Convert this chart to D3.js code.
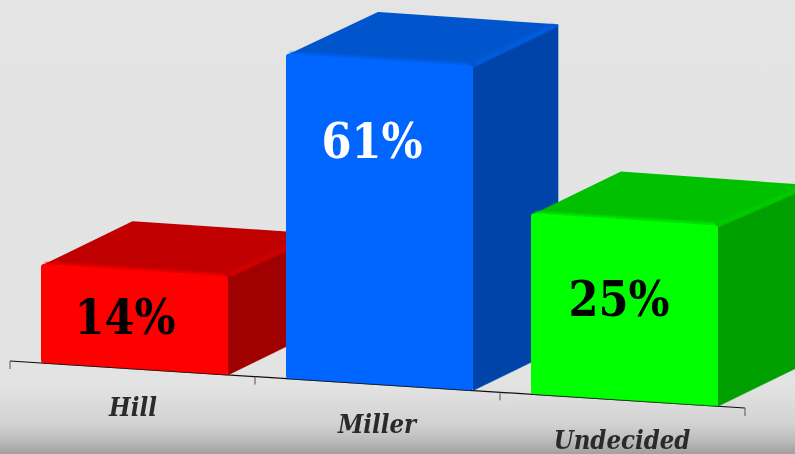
<!DOCTYPE html>
<html><head><meta charset="utf-8">
<script src="https://cdn.jsdelivr.net/npm/d3@7"></script>
<style>html,body{margin:0;padding:0;background:#e4e4e4;overflow:hidden}svg{display:block}</style>
</head><body><svg id="c" width="795" height="454"></svg>
<script>
const categories = ["Hill", "Miller", "Undecided"];
const values = [14, 61, 25];
const valueLabels = ["14%", "61%", "25%"];
const frontColors = ["#ff0000", "#0066ff", "#00ff00"];
const topColors = ["#c00000", "#0055cc", "#00c000"];
const sideColors = ["#a00000", "#0044aa", "#00a000"];
const ridgeColors = ["#d00000", "#005ce0", "#00cc00"];
const bevelColors = ["#f00000", "#0062f4", "#00f000"];
const labelColors = ["#000000", "#ffffff", "#000000"];
// the picture's bars are not proportional to their values, so the scale has one segment per value
const heightKnots = [0, 14, 25, 61];
const heightRange = [0, 98, 180, 324];

const svg = d3.select("#c");
const W = 795, H = 454;
const defs = svg.append("defs");
const bg = defs.append("linearGradient").attr("id","bg").attr("x1",0).attr("x2",0).attr("y1",0).attr("y2",1);
[[0,"#e4e4e4"],[0.85,"#e3e3e3"],[0.934,"#d2d2d2"],[0.97,"#bcbcbc"],[1,"#a0a0a0"]]
  .forEach(s=>bg.append("stop").attr("offset",s[0]).attr("stop-color",s[1]));
defs.append("filter").attr("id","soft").append("feGaussianBlur").attr("stdDeviation",0.4);
defs.append("filter").attr("id","bev").attr("x","-20%").attr("y","-20%").attr("width","140%").attr("height","140%")
  .append("feGaussianBlur").attr("stdDeviation",1.3);

svg.append("rect").attr("width",W).attr("height",H).attr("fill","url(#bg)");

const axisX0 = 10, axisX1 = 745, axisY0 = 361, axisY1 = 408;
const x = d3.scaleBand().domain(categories).range([axisX0, axisX1]);
const ground = d3.scaleLinear().domain([axisX0, axisX1]).range([axisY0, axisY1]);
const h = d3.scaleLinear().domain(heightKnots).range(heightRange);
const inset = 31, barW = 187;
const backLeft = [[92,-43],[92.5,-42],[90,-42]];
const backRight = [[92,-43],[85,-42],[92,-41]];
const sideBottom = [86,-42];
const line = d3.line();

// axis
const tickXs = categories.map(c=>x(c)).concat([axisX1]);
const axis = svg.append("g").attr("filter","url(#soft)");
axis.append("line").attr("x1",axisX0).attr("y1",axisY0).attr("x2",axisX1).attr("y2",axisY1)
  .attr("stroke","#111").attr("stroke-width",1.2);
axis.selectAll(".t").data(tickXs).join("line").attr("class","t")
  .attr("x1",d=>d).attr("x2",d=>d).attr("y1",d=>ground(d)).attr("y2",d=>ground(d)+8)
  .attr("stroke","#555").attr("stroke-width",1);

// bars
categories.forEach((c,i)=>{
  const xl = x(c)+inset, xr = xl+barW;
  const bl = ground(xl), br = ground(xr);
  const hh = h(values[i]);
  const tl = bl-hh, tr = br-hh;
  const g = svg.append("g");
  const bk = [xr+backRight[i][0], tr+backRight[i][1]];
  const bkl = [xl+backLeft[i][0], tl+backLeft[i][1]];
  const sideP = [[xr,tr],bk,[bk[0],br+sideBottom[1]*(bk[0]-xr)/sideBottom[0]],[xr,br]];
  const topP = [[xl+2.5,tl+1],[bkl[0],bkl[1]+0.5],[bk[0]-1,bk[1]+1],[xr,tr]];
  const poly = (p,col,r)=>g.append("path").attr("d",line(p)+"Z").attr("fill",col).attr("stroke",col)
    .attr("stroke-width",r).attr("stroke-linejoin","round");
  poly(sideP, sideColors[i], 0.6);
  poly(topP, topColors[i], 2.5);
  // ridge between the top and side faces
  g.append("path").attr("d",line([[xr+2,tr-3],[bk[0]-4,bk[1]+1]])).attr("stroke",ridgeColors[i]).attr("stroke-width",4)
    .attr("fill","none").attr("filter","url(#bev)");
  g.append("path").attr("d",line([[xr+1,tr],[xr+1,br]])).attr("stroke",topColors[i]).attr("stroke-width",1.2)
    .attr("fill","none").attr("filter","url(#bev)").attr("opacity",0.7);
  // soft bevel above the front face's top edge
  g.append("path").attr("d",line([[xl+4,tl-1.5],[xr-3,tr-2]])).attr("stroke",bevelColors[i]).attr("stroke-width",2.5)
    .attr("fill","none").attr("filter","url(#bev)");
  // front face with soft rounded top corners
  const r = 3;
  g.append("path").attr("d",line([[xl+r,tl-1+r],[xr-r,tr-1+r],[xr-r,br-r],[xl+r,bl-r]])+"Z")
    .attr("fill",frontColors[i]).attr("stroke",frontColors[i]).attr("stroke-width",r*2).attr("stroke-linejoin","round");
  g.append("path").attr("d",line([[xl,bl],[xr,br]])).attr("stroke","#111").attr("stroke-width",0.8).attr("fill","none").attr("opacity",0.6);
});

// value labels
const labelPos = [[125,334],[372,158],[619,316]];
svg.selectAll(".v").data(valueLabels).join("text").attr("class","v")
  .attr("x",(d,i)=>labelPos[i][0]).attr("y",(d,i)=>labelPos[i][1])
  .attr("text-anchor","middle").attr("font-family","'DejaVu Serif Condensed','DejaVu Serif',serif").attr("font-weight","bold")
  .attr("font-size",48).attr("fill",(d,i)=>labelColors[i]).attr("filter","url(#soft)").text(d=>d);

// category labels
const catPos = [[133,416],[377,433],[622,449]];
svg.selectAll(".c").data(categories).join("text").attr("class","c")
  .attr("x",(d,i)=>catPos[i][0]).attr("y",(d,i)=>catPos[i][1])
  .attr("text-anchor","middle").attr("font-family","'DejaVu Serif Condensed','DejaVu Serif',serif").attr("font-weight","bold")
  .attr("font-style","italic").attr("font-size",25.5).attr("fill","#2a2a2a").attr("filter","url(#soft)").text(d=>d);
</script></body></html>
